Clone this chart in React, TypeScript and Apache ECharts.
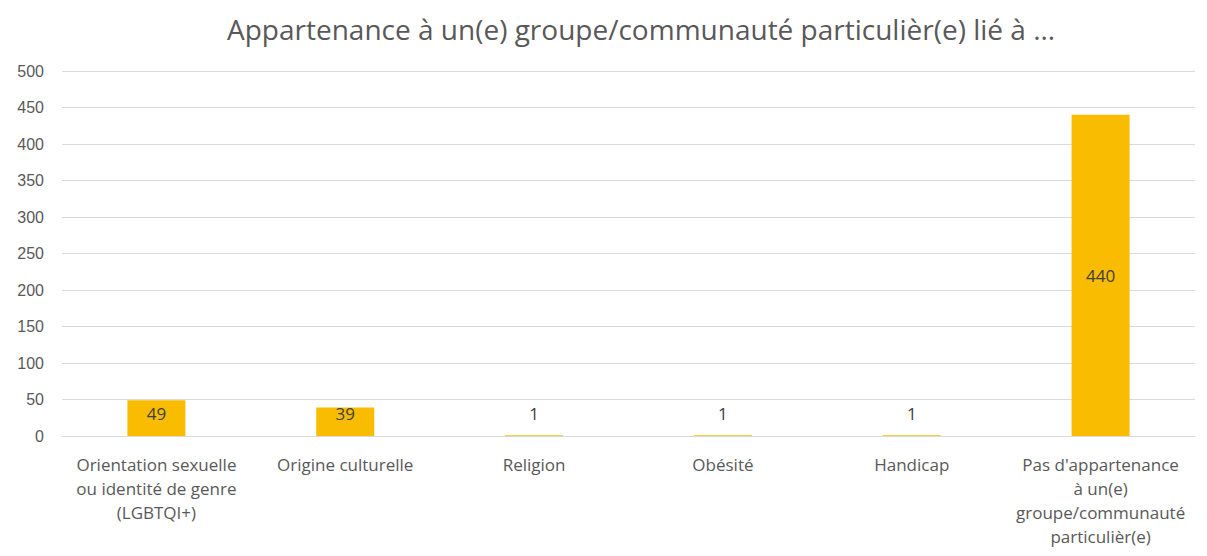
import React, { useEffect, useRef } from "react";
import * as echarts from "echarts";

const titleText = "Appartenance à un(e) groupe/communauté particulièr(e) lié à ...";
const categories = [
  "Orientation sexuelle\nou identité de genre\n(LGBTQI+)",
  "Origine culturelle",
  "Religion",
  "Obésité",
  "Handicap",
  "Pas d'appartenance\nà un(e)\ngroupe/communauté\nparticulièr(e)",
];
const values = [49, 39, 1, 1, 1, 440];

export default function App() {
  const ref = useRef<HTMLDivElement>(null);
  useEffect(() => {
    if (!ref.current) return;
    const chart = echarts.init(ref.current, null, { renderer: "svg" });
    const textFont = "'Open Sans', sans-serif";
    chart.setOption({
      animation: false,
      title: {
        text: titleText,
        left: 214,
        top: 2,
        textStyle: { fontSize: 28, fontWeight: "normal", color: "#595959", fontFamily: "'Open Sans', sans-serif" },
      },
      grid: { left: 54, right: 4, top: 63, bottom: 107, containLabel: false },
      xAxis: {
        type: "category",
        data: categories,
        axisLine: { show: true, lineStyle: { color: "#d9d9d9", width: 1 } },
        axisTick: { show: false },
        axisLabel: {
          interval: 0,
          color: "#595959",
          fontSize: 17,
          lineHeight: 24,
          margin: 16,
          fontFamily: textFont,
        },
      },
      yAxis: {
        type: "value",
        min: 0,
        max: 500,
        interval: 50,
        axisLine: { show: false },
        axisTick: { show: false },
        splitLine: { lineStyle: { color: "#d9d9d9", width: 1 } },
        axisLabel: { color: "#595959", fontSize: 16, margin: 18, fontFamily: "Arial, 'Liberation Sans', sans-serif" },
      },
      series: [
        {
          type: "bar",
          barWidth: 58,
          itemStyle: { color: "#F9BC00" },
          data: values.map((v) => ({
            value: v,
            label: {
              show: true,
              position: v > 100 ? "inside" : "insideBottom",
              distance: 14,
              color: "#404040",
              fontSize: 17,
              fontFamily: textFont,
            },
          })),
        },
      ],
    });
    return () => chart.dispose();
  }, []);
  return <div ref={ref} style={{ width: 1191, height: 540 }} />;
}
